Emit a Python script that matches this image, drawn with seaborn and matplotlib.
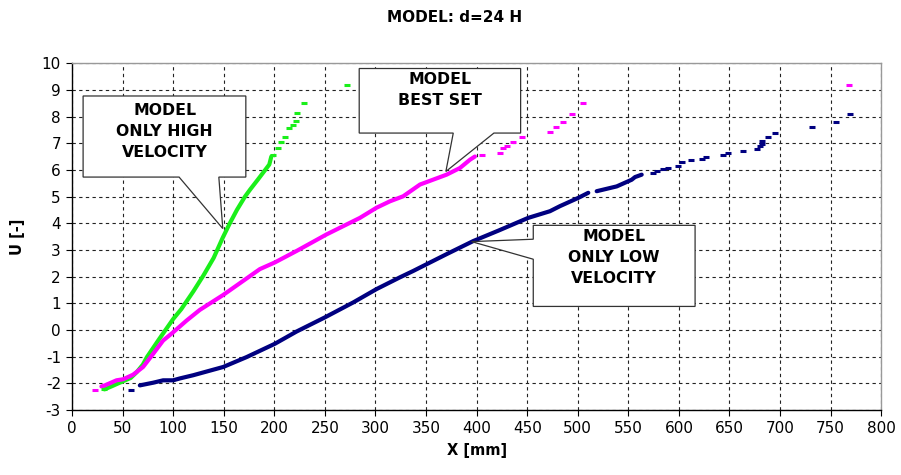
import matplotlib
matplotlib.use("Agg")
import matplotlib.pyplot as plt
from matplotlib.patches import Polygon
import seaborn as sns

# ---- data: continuous runs of each model curve ----
high_x = [32, 40, 50, 58, 64, 70, 74, 86, 100, 108, 120, 130, 140, 149, 156, 163, 171, 176, 184, 191, 195, 197]
high_y = [-2.23, -2.1, -1.93, -1.8, -1.58, -1.3, -1.02, -0.35, 0.41, 0.78, 1.45, 2.05, 2.7, 3.46, 4.0, 4.5, 5.0, 5.26, 5.65, 6.0, 6.2, 6.5]

best_x = [29, 32.4, 43.9, 50.5, 60.3, 70.2, 80.1, 90, 99.9, 113.2, 126.3, 149.4, 185.7, 200.5, 222, 251.6, 284.6,
          301, 314.2, 327.4, 344, 370.3, 383.5, 393.4, 398.3]
best_y = [-2.12, -2.08, -1.89, -1.85, -1.68, -1.39, -0.9, -0.4, -0.09, 0.35, 0.75, 1.31, 2.28, 2.53, 2.96, 3.58, 4.2,
          4.58, 4.82, 5.01, 5.45, 5.82, 6.07, 6.38, 6.5]

low_x = [67, 80.1, 90, 99.9, 106.5, 119.7, 149.4, 172.5, 200.5, 222, 250, 278, 301, 324.1, 337.3, 370.3, 396.6,
         421.4, 451, 472.5, 482.4, 500.5, 510.4]
low_y = [-2.08, -1.98, -1.89, -1.89, -1.82, -1.7, -1.39, -1.02, -0.52, -0.06, 0.47, 1.03, 1.53, 1.97, 2.21, 2.84, 3.33,
         3.72, 4.2, 4.45, 4.64, 4.95, 5.14]
low2_x = [518.7, 538.5, 553.3, 556.6, 563.2]
low2_y = [5.2, 5.38, 5.63, 5.73, 5.82]

# ---- data: isolated points of each model curve ----
high_px = [32, 198.8, 203.2, 206.4, 210.4, 214.7, 218, 221, 222, 229.5, 271.4]
high_py = [-2.23, 6.57, 6.82, 7.06, 7.23, 7.56, 7.69, 7.84, 8.12, 8.52, 9.2]

best_px = [22.5, 405, 423, 426.3, 429.7, 435.6, 444.5, 472.2, 478.5, 485.5, 494, 505.5, 768.6]
best_py = [-2.24, 6.57, 6.65, 6.82, 6.9, 7.06, 7.25, 7.42, 7.6, 7.81, 8.11, 8.52, 9.19]

low_px = [58.7, 574.7, 578, 584.6, 589.5, 599.4, 602.8, 612, 622.5, 626.8, 644, 648.3, 663.7, 677.6, 680.2,
          681.9, 682.5, 688.4, 695, 731.4, 755, 769.4]
low_py = [-2.24, 5.88, 5.94, 6.04, 6.08, 6.16, 6.28, 6.38, 6.42, 6.48, 6.57, 6.63, 6.71, 6.8, 6.9,
          6.98, 7.1, 7.25, 7.4, 7.6, 7.81, 8.1]

x_ticks = list(range(0, 801, 50))
y_ticks = list(range(-3, 11, 1))

GREEN = "#1aef1a"
MAGENTA = "#ff00ff"
NAVY = "#000080"

sns.set_style("white")
plt.rcParams["font.family"] = ["DejaVu Sans"]
plt.rcParams["axes.unicode_minus"] = False
plt.rcParams["text.color"] = "black"
plt.rcParams["axes.labelcolor"] = "black"

fig = plt.figure(figsize=(9.01, 4.75), dpi=100)
ax = fig.add_axes([0.080, 0.137, 0.898, 0.730])

lw = 3.0
sns.lineplot(x=high_x, y=high_y, sort=False, color=GREEN, linewidth=lw, ax=ax, zorder=3)
sns.lineplot(x=best_x, y=best_y, sort=False, color=MAGENTA, linewidth=lw, ax=ax, zorder=3)
sns.lineplot(x=low_x, y=low_y, sort=False, color=NAVY, linewidth=lw, ax=ax, zorder=3)
sns.lineplot(x=low2_x, y=low2_y, sort=False, color=NAVY, linewidth=lw, ax=ax, zorder=3)

for xs, ys, c in [(high_px, high_py, GREEN), (best_px, best_py, MAGENTA), (low_px, low_py, NAVY)]:
    sns.scatterplot(x=xs, y=ys, marker="_", s=18, linewidth=2.2, color=c, ax=ax, zorder=3)

ax.set_xlim(0, 800)
ax.set_ylim(-3, 10)
ax.set_xticks(x_ticks)
ax.set_yticks(y_ticks)
ax.tick_params(axis="both", which="major", direction="out", length=4, width=0.8,
               color="black", labelsize=11, pad=4, labelcolor="black")
ax.tick_params(axis="both", bottom=True, left=True)
ax.grid(True, color="#222222", linestyle=(0, (3, 3)), linewidth=0.8)
ax.set_axisbelow(True)
for side in ("left", "bottom"):
    ax.spines[side].set_color("black")
    ax.spines[side].set_linewidth(1.0)
for side in ("top", "right"):
    ax.spines[side].set_color("#999999")
    ax.spines[side].set_linewidth(1.0)

ax.set_xlabel("X [mm]", fontsize=10.5, fontweight="bold", labelpad=5)
ax.set_ylabel("U [-]", fontsize=10.5, fontweight="bold", labelpad=12)
fig.text(0.505, 0.963, "MODEL: d=24 H", ha="center", va="center", fontsize=11, fontweight="bold")

# ---- callout boxes with pointers ----
callouts = [
    ([(10.9, 8.77), (171.8, 8.77), (171.8, 5.73), (145.1, 5.73), (149.0, 3.8), (105.8, 5.73), (10.9, 5.73)],
     (91.5, 7.45), "MODEL\nONLY HIGH\nVELOCITY"),
    ([(283.9, 9.80), (443.5, 9.80), (443.5, 7.38), (417.1, 7.38), (369.6, 5.94), (376.9, 7.38), (283.9, 7.38)],
     (363.7, 8.98), "MODEL\nBEST SET"),
    ([(456.0, 3.92), (616.0, 3.92), (616.0, 0.88), (456.0, 0.88), (456.0, 2.65), (395.0, 3.31), (456.0, 3.40)],
     (535.8, 2.70), "MODEL\nONLY LOW\nVELOCITY"),
]
for verts, (tx, ty), label in callouts:
    ax.add_patch(Polygon(verts, closed=True, facecolor="white", edgecolor="#333333",
                         linewidth=0.9, zorder=5))
    ax.text(tx, ty, label, ha="center", va="center", fontsize=11.3, fontweight="bold",
            linespacing=1.5, zorder=6)

fig.savefig("out.png", dpi=100)
